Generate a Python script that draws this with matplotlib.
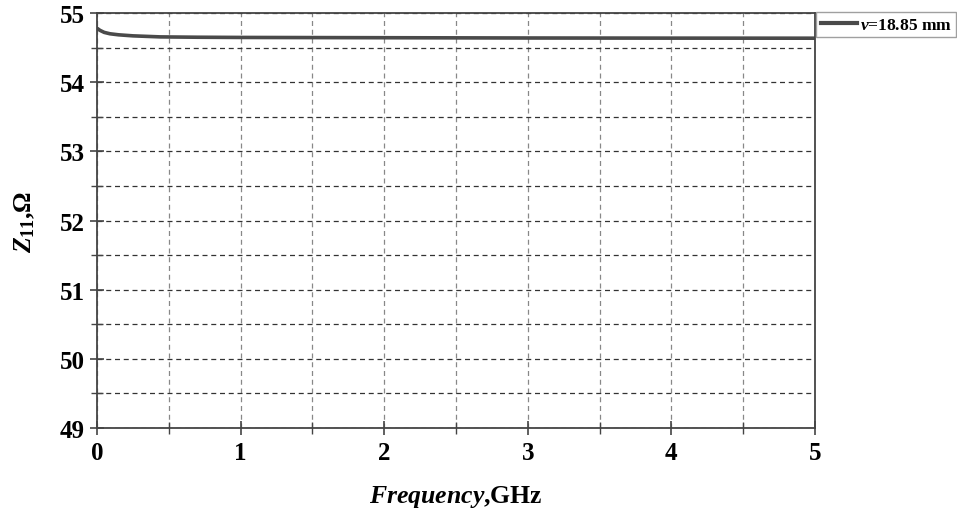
import numpy as np
import matplotlib
matplotlib.use("Agg")
import matplotlib.pyplot as plt
from matplotlib.ticker import MultipleLocator

plt.rcParams['font.family'] = ['Liberation Serif', 'DejaVu Serif']
plt.rcParams['font.weight'] = 'bold'
plt.rcParams['axes.labelweight'] = 'bold'
plt.rcParams['mathtext.fontset'] = 'custom'
plt.rcParams['mathtext.rm'] = 'Liberation Serif:bold'
plt.rcParams['mathtext.it'] = 'Liberation Serif:bold:italic'
plt.rcParams['mathtext.bf'] = 'Liberation Serif:bold'

# input impedance vs frequency
freq = [0.0, 0.02, 0.05, 0.09, 0.15, 0.25, 0.44, 0.7, 1.0, 2.0, 3.0, 4.0, 5.0]
z11 = [54.78, 54.75, 54.72, 54.70, 54.685, 54.67, 54.655, 54.65, 54.647,
       54.643, 54.639, 54.637, 54.636]
label = r'$v$=18.85 mm'

fig = plt.figure(figsize=(9.57, 5.10), dpi=100)
ax = fig.add_axes([0.1014, 0.1588, 0.7502, 0.8137])

ax.plot(freq, z11, color='#4a4a4a', lw=2.6, label=label)

ax.set_xlim(0, 5)
ax.set_ylim(49, 55)
ax.xaxis.set_major_locator(MultipleLocator(1))
ax.xaxis.set_minor_locator(MultipleLocator(0.5))
ax.yaxis.set_major_locator(MultipleLocator(1))
ax.yaxis.set_minor_locator(MultipleLocator(0.5))

ax.grid(True, which='both', axis='y', ls=(0, (4, 3)), color='#333333', lw=0.9)
ax.grid(True, which='both', axis='x', ls=(0, (4, 3)), color='#888888', lw=0.9)

ax.tick_params(which='major', direction='inout', length=10, width=1.2,
               color='#444444', labelsize=18, pad=4)
ax.tick_params(which='minor', direction='inout', length=8, width=1.0, color='#444444')
for s in ax.spines.values():
    s.set_color('#444444')
    s.set_linewidth(1.3)

ax.set_xlabel(r'$\mathit{Frequency}$,GHz', fontsize=18.5, labelpad=14)
ax.set_ylabel(r'$Z_{11}$,Ω', fontsize=18.5, labelpad=16)

leg = ax.legend(loc='upper left', bbox_to_anchor=(1.002, 1.002), fontsize=12.5,
                frameon=True, fancybox=False, edgecolor='#888888',
                handlelength=2.1, handletextpad=0.15, borderpad=0.25,
                borderaxespad=0)
leg.get_frame().set_linewidth(1.0)
leg.get_lines()[0].set_linewidth(3)

fig.savefig('out.png', dpi=100)
